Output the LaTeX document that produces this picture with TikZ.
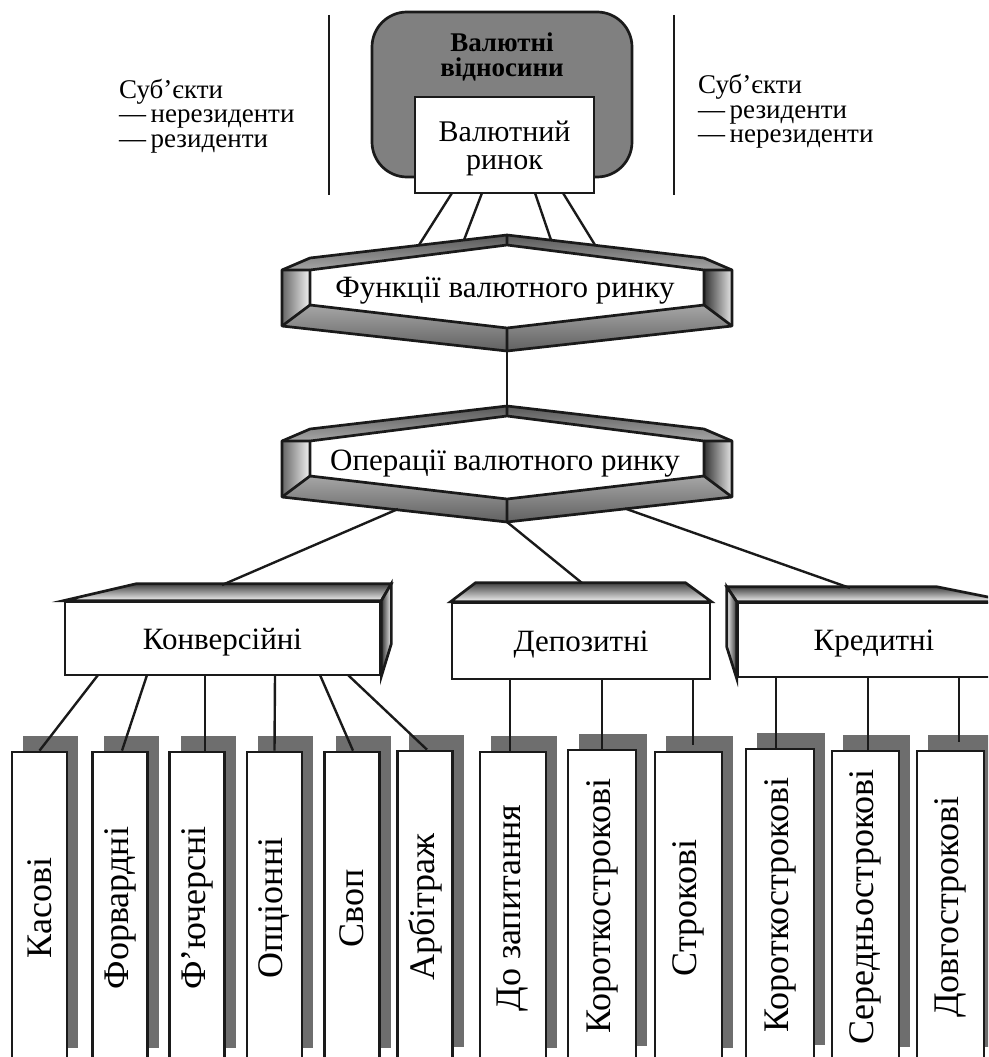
\documentclass[tikz,border=0pt]{standalone}
\usepackage{fontspec}
\setmainfont{Liberation Serif}
\usetikzlibrary{shadows,calc}
\definecolor{relgray}{HTML}{808080}
\definecolor{shgray}{HTML}{6E6E6E}
\definecolor{inkc}{HTML}{1A1A1A}
\newcommand\txtmain{\fontsize{31}{34}\selectfont}
\newcommand\txtvert{\fontsize{36}{40}\selectfont}
\newcommand\txtside{\fontsize{27}{24.5}\selectfont}
\tikzset{
  ln/.style={line width=2.7pt, draw=inkc},
  conn/.style={line width=2.4pt, draw=inkc},
  sideline/.style={line width=2pt, draw=inkc},
  sidetxt/.style={font=\txtside, inner sep=0pt, anchor=north west, align=left},
  catbox/.style={draw=inkc, line width=2.7pt, fill=white, inner sep=0pt, font=\txtmain, text depth=0pt},
  vbox/.style={draw=inkc, line width=2.7pt, fill=white, inner sep=0pt,
    minimum height=312pt, font=\txtvert,
    general shadow={fill=shgray, draw=none, shadow xshift=11pt, shadow yshift=16pt}},
  hexface/.style={left color=black!60, right color=black!5},
  hexfacer/.style={left color=black!80, right color=black!10},
  hextop/.style={top color=black!65, bottom color=black!35},
  hexbot/.style={top color=black!35, bottom color=black!62},
  hextxt/.style={font=\txtmain, text depth=0pt, inner sep=0pt},
}
\begin{document}
\begin{tikzpicture}[x=1pt,y=-1pt]
\useasboundingbox (0,0) rectangle (988,1057);
\clip (0,0) rectangle (988,1057);

% ---------- side separators and subjects ----------
\coordinate (sla) at (329,15); \coordinate (slb) at (329,195);
\coordinate (sra) at (674,15); \coordinate (srb) at (674,195);
\draw[sideline] (sla) -- (slb);
\draw[sideline] (sra) -- (srb);
\node[sidetxt] (lsub) at (119,78.5) {Суб’єкти\\—\,нерезиденти\\—\,резиденти};
\node[sidetxt] (rsub) at (698,74) {Суб’єкти\\—\,резиденти\\—\,нерезиденти};

% ---------- currency relations ----------
\node[draw=inkc, line width=2.7pt, fill=relgray, rounded corners=35pt,
      minimum width=260pt, minimum height=165pt] (rel) at (502,94.5) {};
\node[font=\bfseries\fontsize{27}{25}\selectfont, align=center, inner sep=0pt, text depth=0pt] (reltxt) at (502,55) {Валютні\\відносини};
\node[catbox, minimum width=179pt, minimum height=96pt, align=center,
      font=\fontsize{30}{27.5}\selectfont] (vr) at (504.5,145) {Валютний\\ринок};

% ---------- hexagon 1 ----------
\path[hexface] (282,270) -- (310,270) -- (310,305) -- (282,326) -- cycle;
\path[hexfacer] (704,270) -- (732,270) -- (732,326) -- (704,305) -- cycle;
\path[hextop] (282,270) -- (310,258) -- (507,235) -- (704,258) -- (732,270) -- (704,270) -- (507,245) -- (310,270) -- cycle;
\path[hexbot] (310,305) -- (507,328) -- (704,305) -- (732,326) -- (507,351) -- (282,326) -- cycle;
\draw[ln, line join=round] (282,270) -- (310,258) -- (507,235) -- (704,258) -- (732,270) -- (732,326) -- (507,351) -- (282,326) -- cycle;
\draw[ln, line join=round] (310,270) -- (507,245) -- (704,270) -- (704,305) -- (507,328) -- (310,305) -- cycle;
\draw[ln] (282,270) -- (310,270) (282,326) -- (310,305) (732,270) -- (704,270) (732,326) -- (704,305)
          (507,235) -- (507,245) (507,328) -- (507,351);
\node[hextxt] (fun) at (505,287.5) {Функції валютного ринку};
\coordinate (h1t) at (507,235); \coordinate (h1b) at (507,351);
\coordinate (h1a) at (419,245); \coordinate (h1c) at (464,240);
\coordinate (h1d) at (551,240); \coordinate (h1e) at (595,245);

% ---------- hexagon 2 ----------
\begin{scope}[shift={(0,171)}]
\path[hexface] (282,270) -- (310,270) -- (310,305) -- (282,326) -- cycle;
\path[hexfacer] (704,270) -- (732,270) -- (732,326) -- (704,305) -- cycle;
\path[hextop] (282,270) -- (310,258) -- (507,235) -- (704,258) -- (732,270) -- (704,270) -- (507,245) -- (310,270) -- cycle;
\path[hexbot] (310,305) -- (507,328) -- (704,305) -- (732,326) -- (507,351) -- (282,326) -- cycle;
\draw[ln, line join=round] (282,270) -- (310,258) -- (507,235) -- (704,258) -- (732,270) -- (732,326) -- (507,351) -- (282,326) -- cycle;
\draw[ln, line join=round] (310,270) -- (507,245) -- (704,270) -- (704,305) -- (507,328) -- (310,305) -- cycle;
\draw[ln] (282,270) -- (310,270) (282,326) -- (310,305) (732,270) -- (704,270) (732,326) -- (704,305)
          (507,235) -- (507,245) (507,328) -- (507,351);
\node[hextxt] (ops) at (505,289) {Операції валютного ринку};
\coordinate (h2t) at (507,235); \coordinate (h2b) at (507,351);
\coordinate (h2l) at (398,338); \coordinate (h2r) at (625,337.5);
\end{scope}

% connectors at the top
\coordinate (vra) at (452,193); \coordinate (vrb) at (482,193);
\coordinate (vrc) at (535,193); \coordinate (vrd) at (563,193);
\draw[conn] (vra) -- (h1a);
\draw[conn] (vrb) -- (h1c);
\draw[conn] (vrc) -- (h1d);
\draw[conn] (vrd) -- (h1e);
\draw[conn] (h1b) -- (h2t);

% ---------- category boxes ----------
\node[catbox, minimum width=315pt, minimum height=73pt] (konv) at (222.5,638.5) {Конверсійні};
\draw[ln, top color=black!75, bottom color=black!5] (konv.north west) -- ++(73,-17) -- ($(konv.north east)+(10,-17)$) -- (konv.north east) -- cycle;
\draw[ln, left color=black!80, right color=black!5] (konv.north east) -- ++(10,-17) -- ++(0,60) -- (konv.south east) -- cycle;

\node[catbox, minimum width=258pt, minimum height=76pt] (dep) at (581,641) {Депозитні};
\draw[ln, top color=black!75, bottom color=black!5] (dep.north west) -- ++(25,-19) -- ($(dep.north east)+(-26,-19)$) -- (dep.north east) -- cycle;

\node[catbox, minimum width=272pt, minimum height=74pt] (kred) at (874,640) {Кредитні};
\draw[ln, top color=black!75, bottom color=black!5] (kred.north west) -- ++(-10,-15) -- ($(kred.north east)+(-75,-15)$) -- (kred.north east) -- cycle;
\draw[ln, left color=black!5, right color=black!80] (kred.north west) -- ++(-10,-15) -- ++(0,60) -- (kred.south west) -- cycle;

\coordinate (ct1) at (222,585); \coordinate (ct2) at (582,583); \coordinate (ct3) at (850,588);
\draw[conn] (h2l) -- (ct1);
\draw[conn] (h2b) -- (ct2);
\draw[conn] (h2r) -- (ct3);

% ---------- vertical boxes ----------
\node[vbox, minimum width=55pt] (k1) at (39.5,908) {\rotatebox{90}{Касові}};
\node[vbox, minimum width=55pt] (k2) at (120,908) {\rotatebox{90}{Форвардні}};
\node[vbox, minimum width=55pt] (k3) at (197,908) {\rotatebox{90}{Ф’ючерсні}};
\node[vbox, minimum width=55pt] (k4) at (274.5,908) {\rotatebox{90}{Опціонні}};
\node[vbox, minimum width=55pt] (k5) at (352,908) {\rotatebox{90}{Своп}};
\node[vbox, minimum width=55pt] (k6) at (425,907) {\rotatebox{90}{Арбітраж}};
\node[vbox, minimum width=66pt] (d1) at (513,908) {\rotatebox{90}{До запитання}};
\node[vbox, minimum width=68pt] (d2) at (602,906) {\rotatebox{90}{Короткострокові}};
\node[vbox, minimum width=67pt] (d3) at (688.5,908) {\rotatebox{90}{Строкові}};
\node[vbox, minimum width=68pt] (c1) at (780,905) {\rotatebox{90}{Короткострокові}};
\node[vbox, minimum width=67pt] (c2) at (865.5,907) {\rotatebox{90}{Середньострокові}};
\node[vbox, minimum width=67pt] (c3) at (950.5,907) {\rotatebox{90}{Довгострокові}};

% connectors to vertical boxes
\coordinate (kb1) at (98,675);  \coordinate (kb2) at (147,675); \coordinate (kb3) at (205,675);
\coordinate (kb4) at (275,675); \coordinate (kb5) at (320,675); \coordinate (kb6) at (348,675);
\draw[conn] (kb1) -- (k1.north);
\draw[conn] (kb2) -- ([xshift=2pt]k2.north);
\draw[conn] (kb3) -- ([xshift=8pt]k3.north);
\draw[conn] (kb4) -- (k4.north);
\draw[conn] (kb5) -- ([xshift=1pt]k5.north);
\draw[conn] (kb6) -- ([xshift=2pt]k6.north);
\coordinate (db1) at (510,679); \coordinate (db2) at (602,679); \coordinate (db3) at (693,679);
\draw[conn] (db1) -- ([xshift=-3pt]d1.north);
\draw[conn] (db2) -- (d2.north);
\draw[conn] (db3) -- ([xshift=4.5pt,yshift=6pt]d3.north);
\coordinate (cb1) at (776,677); \coordinate (cb2) at (868,677); \coordinate (cb3) at (959,677);
\draw[conn] (cb1) -- ([xshift=-4pt]c1.north);
\draw[conn] (cb2) -- ([xshift=2.5pt]c2.north);
\draw[conn] (cb3) -- ([xshift=8.5pt,yshift=8pt]c3.north);
\end{tikzpicture}
\end{document}
